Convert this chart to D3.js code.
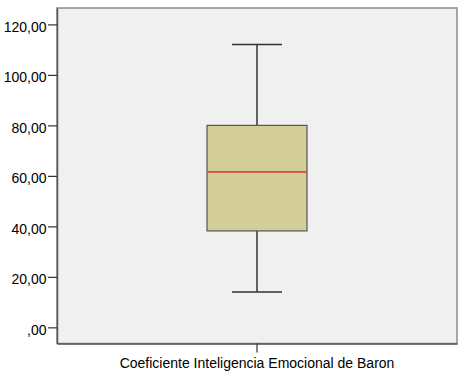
<!DOCTYPE html>
<html><head><meta charset="utf-8">
<script src="https://cdn.jsdelivr.net/npm/d3@7/dist/d3.min.js"></script>
<style>body{margin:0;background:#fff;}svg{display:block;font-family:"Liberation Sans",Arial,sans-serif;}</style>
</head><body>
<svg id="c" width="464" height="373"></svg>
<script>
const categories = ["Coeficiente Inteligencia Emocional de Baron"];
const whiskerLow = [14];
const q1 = [38.2];
const median = [61.6];
const q3 = [80];
const whiskerHigh = [112];
const yTicks = [0, 20, 40, 60, 80, 100, 120];

(function(){
const svg = d3.select("#c");
const pL = 57, pR = 457, pT = 8, pB = 343.5;
const yScale = d3.scaleLinear().domain([-6.4, 126.5]).range([pB, pT]);
const xScale = d3.scaleBand().domain(categories).range([pL, pR]).padding(0);

svg.append("rect").attr("x", pL).attr("y", pT).attr("width", pR-pL).attr("height", pB-pT)
  .attr("fill", "#f0f0f0").attr("stroke", "#8c8c8c").attr("stroke-width", 1.5);

const fmt = v => v === 0 ? ",00" : d3.format(".2f")(v).replace(".", ",");
const yAxis = svg.append("g").attr("transform", `translate(${pL},0)`)
  .call(d3.axisLeft(yScale).tickValues(yTicks).tickFormat(fmt).tickSize(9).tickSizeOuter(0).tickPadding(1.5));
yAxis.select(".domain").attr("stroke", "#555").attr("stroke-width", 1.5);
yAxis.selectAll(".tick line").attr("stroke", "#333").attr("stroke-width", 1.2);
yAxis.selectAll("text").attr("font-size", 14).attr("fill", "#000").attr("dy", "0.5em")
  .attr("font-family", "Liberation Sans, Arial, sans-serif");

const xAxis = svg.append("g").attr("transform", `translate(0,${pB})`)
  .call(d3.axisBottom(xScale).tickSize(9).tickSizeOuter(0).tickPadding(5.5));
xAxis.select(".domain").attr("stroke", "#555").attr("stroke-width", 1.5);
xAxis.selectAll(".tick line").attr("stroke", "#333").attr("stroke-width", 1.2);
xAxis.selectAll("text").attr("font-size", 14).attr("fill", "#000")
  .attr("font-family", "Liberation Sans, Arial, sans-serif");

const boxW = 100, capW = 50;
categories.forEach((c, i) => {
  const cx = xScale(c) + xScale.bandwidth()/2;
  const g = svg.append("g");
  g.append("line").attr("x1", cx).attr("x2", cx).attr("y1", yScale(whiskerHigh[i])).attr("y2", yScale(q3[i]))
    .attr("stroke", "#333").attr("stroke-width", 1.5);
  g.append("line").attr("x1", cx).attr("x2", cx).attr("y1", yScale(q1[i])).attr("y2", yScale(whiskerLow[i]))
    .attr("stroke", "#333").attr("stroke-width", 1.5);
  g.append("line").attr("x1", cx-capW/2).attr("x2", cx+capW/2).attr("y1", yScale(whiskerHigh[i])).attr("y2", yScale(whiskerHigh[i]))
    .attr("stroke", "#333").attr("stroke-width", 1.5);
  g.append("line").attr("x1", cx-capW/2).attr("x2", cx+capW/2).attr("y1", yScale(whiskerLow[i])).attr("y2", yScale(whiskerLow[i]))
    .attr("stroke", "#333").attr("stroke-width", 1.5);
  g.append("rect").attr("x", cx-boxW/2).attr("width", boxW).attr("y", yScale(q3[i])).attr("height", yScale(q1[i]) - yScale(q3[i]))
    .attr("fill", "#d3ce9a").attr("stroke", "#555").attr("stroke-width", 1.2);
  g.append("line").attr("x1", cx-boxW/2).attr("x2", cx+boxW/2).attr("y1", yScale(median[i])).attr("y2", yScale(median[i]))
    .attr("stroke", "#e3473a").attr("stroke-width", 1.8);
});
})();
</script>
</body></html>
